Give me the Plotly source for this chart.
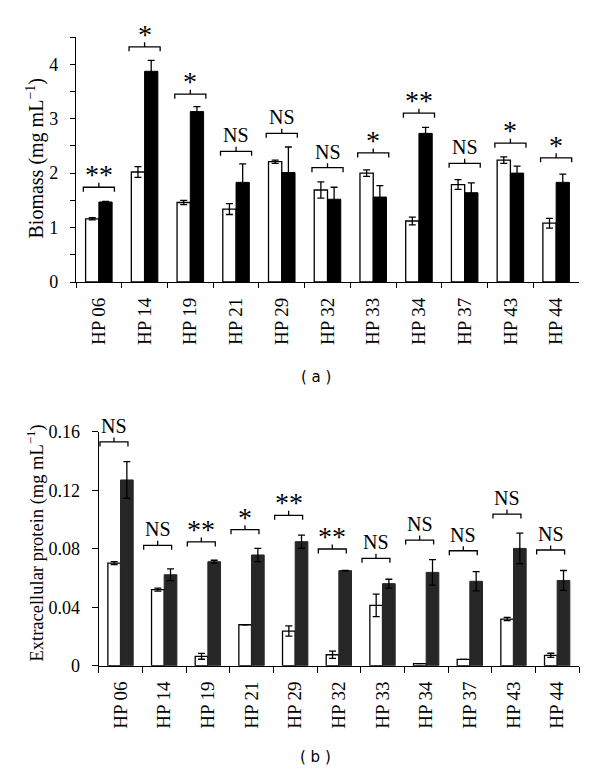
import plotly.graph_objects as go

# ---------------- data ----------------
strains = ["HP 06", "HP 14", "HP 19", "HP 21", "HP 29", "HP 32",
           "HP 33", "HP 34", "HP 37", "HP 43", "HP 44"]

# (a) Biomass (mg mL-1)
bio_white = [1.16, 2.02, 1.46, 1.34, 2.21, 1.69, 2.00, 1.12, 1.79, 2.24, 1.08]
bio_white_err = [0.02, 0.10, 0.04, 0.10, 0.03, 0.15, 0.06, 0.07, 0.09, 0.06, 0.09]
bio_black = [1.47, 3.87, 3.13, 1.83, 2.01, 1.52, 1.56, 2.73, 1.64, 2.00, 1.83]
bio_black_err = [0.01, 0.20, 0.09, 0.34, 0.47, 0.22, 0.21, 0.11, 0.18, 0.13, 0.15]
bio_sig = ["**", "*", "*", "NS", "NS", "NS", "*", "**", "NS", "*", "*"]
bio_sig_y = [1.74, 4.32, 3.45, 2.40, 2.73, 2.10, 2.37, 3.10, 2.18, 2.55, 2.28]

# (b) Extracellular protein (mg mL-1)
prot_white = [0.0702, 0.0520, 0.0064, 0.0280, 0.0237, 0.0075, 0.0413, 0.0014, 0.0043, 0.0319, 0.0071]
prot_white_err = [0.0010, 0.0010, 0.0020, 0.0, 0.0035, 0.0025, 0.0077, 0.0, 0.0, 0.0011, 0.0014]
prot_black = [0.1270, 0.0622, 0.0711, 0.0757, 0.0848, 0.0650, 0.0561, 0.0638, 0.0577, 0.0802, 0.0583]
prot_black_err = [0.0125, 0.0040, 0.0010, 0.0045, 0.0045, 0.0002, 0.0030, 0.0087, 0.0066, 0.0105, 0.0068]
prot_sig = ["NS", "NS", "**", "*", "**", "**", "NS", "NS", "NS", "NS", "NS"]
prot_sig_y = [0.1530, 0.0823, 0.0846, 0.0930, 0.1028, 0.0798, 0.0734, 0.0859, 0.0786, 0.1037, 0.0791]

# ---------------- layout geometry ----------------
W, H = 600, 779
SERIF = "Liberation Serif"
top_x = [76 / W, 579 / W]
top_y = [1 - 282 / H, 1 - 37 / H]
bot_x = [98.7 / W, 579 / W]
bot_y = [1 - 665.7 / H, 1 - 431.7 / H]
top_range = [0, 4.5]
bot_range = [0, 0.16]

fig = go.Figure()

def add_pair(xaxis, yaxis, white, werr, black, berr, black_color):
    fig.add_trace(go.Bar(
        x=strains, y=white, xaxis=xaxis, yaxis=yaxis,
        marker=dict(color="white", line=dict(color="black", width=1.3)),
        error_y=dict(type="data", array=werr, visible=True, color="black",
                     thickness=1.3, width=3.5),
        showlegend=False))
    fig.add_trace(go.Bar(
        x=strains, y=black, xaxis=xaxis, yaxis=yaxis,
        marker=dict(color=black_color, line=dict(color=black_color, width=1.0)),
        error_y=dict(type="data", array=berr, visible=True, color="black",
                     thickness=1.3, width=3.5),
        showlegend=False))

add_pair("x", "y", bio_white, bio_white_err, bio_black, bio_black_err, "#000000")
add_pair("x2", "y2", prot_white, prot_white_err, prot_black, prot_black_err, "#262626")

# ---------------- significance brackets ----------------
def add_brackets(xref, yref, sig, sig_y, yrng, ydom, half, shift, font_ns, font_ast):
    px_per_unit = (ydom[1] - ydom[0]) * H / (yrng[1] - yrng[0])
    d = 4.5 / px_per_unit
    for i, (s, yv) in enumerate(zip(sig, sig_y)):
        c = i + shift
        x0, x1 = c - half, c + half
        path = (f"M {x0},{yv - d} L {x0},{yv} L {x1},{yv} L {x1},{yv - d} "
                f"M {c},{yv} L {c},{yv + d}")
        fig.add_shape(type="path", path=path, xref=xref, yref=yref,
                      line=dict(color="black", width=1.3))
        if s == "NS":
            fig.add_annotation(x=c, y=yv, xref=xref, yref=yref, text=s,
                               showarrow=False, yanchor="bottom", yshift=3,
                               font=dict(family=SERIF, size=font_ns, color="black"))
        else:
            fig.add_annotation(x=c, y=yv, xref=xref, yref=yref, text=s,
                               showarrow=False, yanchor="bottom", yshift=-5,
                               font=dict(family=SERIF, size=font_ast, color="black"))

add_brackets("x", "y", bio_sig, bio_sig_y, top_range, top_y, 0.34, 0.0, 20, 28)
add_brackets("x2", "y2", prot_sig, prot_sig_y, bot_range, bot_y, 0.32, -0.15, 20, 28)

# ---------------- axes ----------------
axis_common = dict(showgrid=False, zeroline=False, showline=True,
                   linecolor="black", linewidth=1.3, ticks="outside",
                   tickcolor="black", tickwidth=1.3, automargin=False)

fig.update_layout(
    template="none",
    width=W, height=H,
    margin=dict(l=0, r=0, t=0, b=0, autoexpand=False),
    paper_bgcolor="white", plot_bgcolor="white",
    font=dict(family=SERIF, color="black"),
    barmode="group", bargap=0.42, bargroupgap=0.0,
    xaxis=dict(**axis_common, domain=top_x, anchor="y", type="category",
               tickson="boundaries", ticklen=5, tickangle=-90,
               ticklabelstandoff=7,
               tickfont=dict(family=SERIF, size=19, color="black")),
    yaxis=dict(**axis_common, domain=top_y, anchor="x", range=top_range,
               tick0=0, dtick=1, ticklen=5, ticklabelstandoff=8,
               minor=dict(dtick=0.5, ticks="outside", ticklen=5,
                          tickcolor="black", tickwidth=1.3),
               tickfont=dict(family=SERIF, size=18, color="black")),
    xaxis2=dict(**axis_common, domain=bot_x, anchor="y2", type="category",
                tickson="boundaries", ticklen=6, tickangle=-90,
                ticklabelstandoff=7,
                tickfont=dict(family=SERIF, size=19, color="black")),
    yaxis2=dict(**axis_common, domain=bot_y, anchor="x2", range=bot_range,
                tick0=0, dtick=0.04, ticklen=6, ticklabelstandoff=8,
                tickfont=dict(family=SERIF, size=18, color="black")),
)

# axis titles and panel labels
fig.add_annotation(x=35 / W, y=1 - 158.5 / H, xref="paper", yref="paper",
                   xanchor="center", yanchor="middle",
                   text="Biomass (mg mL<sup>−1</sup>)", textangle=-90,
                   showarrow=False, font=dict(family=SERIF, size=20, color="black"))
fig.add_annotation(x=36 / W, y=1 - 543.5 / H, xref="paper", yref="paper",
                   xanchor="center", yanchor="middle",
                   text="Extracellular protein (mg mL<sup>−1</sup>)", textangle=-90,
                   showarrow=False, font=dict(family=SERIF, size=18.5, color="black"))
fig.add_annotation(x=316 / W, y=1 - 377 / H, xref="paper", yref="paper",
                   xanchor="center", yanchor="middle",
                   text="( a )", showarrow=False,
                   font=dict(family="DejaVu Sans", size=15, color="black"))
fig.add_annotation(x=316 / W, y=1 - 757 / H, xref="paper", yref="paper",
                   xanchor="center", yanchor="middle",
                   text="( b )", showarrow=False,
                   font=dict(family="DejaVu Sans", size=15, color="black"))

fig.write_html("out.html",
               config={"displayModeBar": False},
               post_script="document.body.style.margin='0px';document.body.style.overflow='hidden';")
